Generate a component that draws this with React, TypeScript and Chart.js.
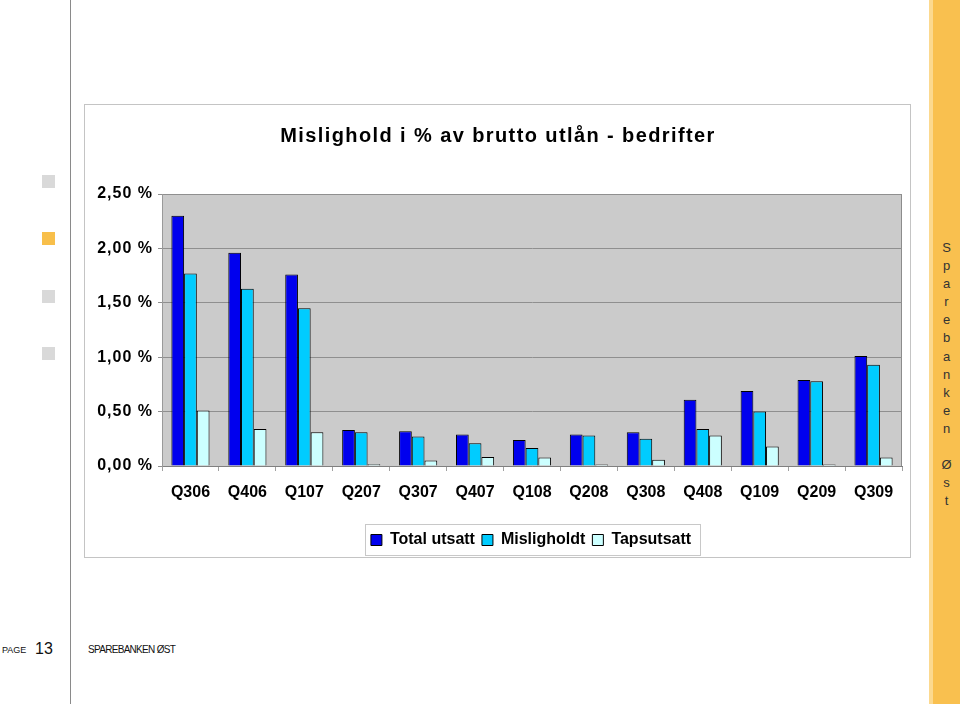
import React, { useEffect, useRef } from "react";
import { Chart, registerables } from "chart.js";

Chart.register(...registerables);

const TITLE = "Mislighold i % av brutto utlån - bedrifter";
const QUARTERS = ["Q306", "Q406", "Q107", "Q207", "Q307", "Q407", "Q108", "Q208", "Q308", "Q408", "Q109", "Q209", "Q309"];
const TOTAL_UTSATT = [2.30, 1.96, 1.76, 0.33, 0.32, 0.29, 0.24, 0.29, 0.31, 0.61, 0.69, 0.79, 1.01];
const MISLIGHOLDT = [1.77, 1.63, 1.45, 0.31, 0.27, 0.21, 0.165, 0.28, 0.25, 0.34, 0.50, 0.78, 0.93];
const TAPSUTSATT = [0.51, 0.34, 0.31, 0.017, 0.05, 0.083, 0.077, 0.013, 0.058, 0.28, 0.18, 0.013, 0.077];
const SERIES_NAMES = ["Total utsatt", "Misligholdt", "Tapsutsatt"];
const SIDE_TEXT = "Sparebanken Øst";

const FONT = "'Liberation Sans', Arial, sans-serif";

const plotBg = {
  id: "plotBg",
  beforeDraw(chart: any) {
    const { ctx, chartArea } = chart;
    ctx.save();
    ctx.fillStyle = "#cbcbcb";
    ctx.fillRect(chartArea.left, chartArea.top, chartArea.right - chartArea.left, chartArea.bottom - chartArea.top);
    ctx.strokeStyle = "#8c8c8c";
    ctx.lineWidth = 1;
    ctx.beginPath();
    ctx.moveTo(chartArea.left, chartArea.top + 0.5);
    ctx.lineTo(chartArea.right - 0.5, chartArea.top + 0.5);
    ctx.lineTo(chartArea.right - 0.5, chartArea.bottom);
    ctx.stroke();
    ctx.restore();
  },
};

const boxShift = {
  id: "boxShift",
  afterLayout(chart: any) {
    const lg = chart.legend;
    if (lg) {
      lg.left += 38;
      lg.right += 38;
      lg.top += 2;
      lg.bottom += 2;
    }
    const tb = chart.titleBlock;
    if (tb) {
      tb.left += 5;
      tb.right += 5;
    }
  },
};

const legendBox = {
  id: "legendBox",
  afterDraw(chart: any) {
    const lg = chart.legend;
    if (!lg || !lg.legendHitBoxes || !lg.legendHitBoxes.length) return;
    const boxes = lg.legendHitBoxes;
    let l = Infinity, r = -Infinity, t = Infinity, b = -Infinity;
    boxes.forEach((h: any) => {
      l = Math.min(l, h.left);
      r = Math.max(r, h.left + h.width);
      t = Math.min(t, h.top);
      b = Math.max(b, h.top + h.height);
    });
    const { ctx } = chart;
    ctx.save();
    ctx.strokeStyle = "#c8c8c8";
    ctx.lineWidth = 1;
    ctx.strokeRect(Math.round(l - 6) + 0.5, Math.round(t - 8) + 0.5, Math.round(r - l + 15), Math.round(b - t + 15));
    ctx.restore();
  },
};

function withSpacing(obj: any, method: string, spacing: string) {
  if (!obj || typeof obj[method] !== "function") return;
  const orig = obj[method];
  obj[method] = function (...args: any[]) {
    const ctx: any = this.ctx;
    const prev = ctx.letterSpacing;
    ctx.letterSpacing = spacing;
    try {
      return orig.apply(this, args);
    } finally {
      ctx.letterSpacing = prev;
    }
  };
}

function ChartBox() {
  const ref = useRef<HTMLCanvasElement | null>(null);
  useEffect(() => {
    if (!ref.current) return;
    const mk = (label: string, data: number[], color: string) => ({
      label,
      data,
      backgroundColor: color,
      borderColor: "#000000",
      borderWidth: 1,
      categoryPercentage: 0.67,
      barPercentage: 1.0,
    });
    const chart: any = new Chart(ref.current, {
      type: "bar",
      data: {
        labels: QUARTERS,
        datasets: [
          mk(SERIES_NAMES[0], TOTAL_UTSATT, "#0000ee"),
          mk(SERIES_NAMES[1], MISLIGHOLDT, "#00ccff"),
          mk(SERIES_NAMES[2], TAPSUTSATT, "#ccffff"),
        ],
      },
      options: {
        animation: false,
        responsive: false,
        maintainAspectRatio: false,
        layout: { padding: { left: 0, right: 10, top: 0, bottom: 3 } },
        plugins: {
          title: {
            display: true,
            text: TITLE,
            color: "#000",
            font: { family: FONT, size: 20, weight: "bold" },
            padding: { top: 20, bottom: 46 },
          },
          legend: {
            display: true,
            position: "bottom",
            labels: {
              color: "#000",
              font: { family: FONT, size: 16, weight: "bold" },
              boxWidth: 11,
              boxHeight: 11,
              padding: 7,
            },
          },
          tooltip: { enabled: false },
        },
        scales: {
          x: {
            offset: true,
            grid: {
              offset: true,
              drawOnChartArea: false,
              drawTicks: true,
              tickLength: 5,
              color: "#a0a0a0",
            },
            border: { display: true, color: "#808080" },
            ticks: {
              color: "#000",
              font: { family: FONT, size: 16, weight: "bold" },
              padding: 12,
              maxRotation: 0,
              autoSkip: false,
            },
            afterFit(scale: any) {
              scale.height = 57;
            },
          },
          y: {
            min: 0,
            max: 2.5,
            ticks: {
              stepSize: 0.5,
              color: "#000",
              font: { family: FONT, size: 16, weight: "bold" },
              padding: 5,
              callback: (v: any) => Number(v).toFixed(2).replace(".", ",") + " %",
            },
            grid: {
              color: "#8f8f8f",
              drawTicks: true,
              tickLength: 4,
            },
            border: { display: true, color: "#9a9a9a" },
            afterFit(scale: any) {
              scale.width = 78;
            },
          },
        },
      },
      plugins: [plotBg, boxShift, legendBox],
    });
    withSpacing(chart.titleBlock, "draw", "1.4px");
    withSpacing(chart.scales.y, "drawLabels", "1px");
    chart.update();
    return () => chart.destroy();
  }, []);
  return <canvas ref={ref} width={828} height={455} style={{ display: "block", width: 828, height: 455 }} />;
}

export default function App() {
  const squares = [
    { top: 175, color: "#d9d9d9" },
    { top: 232, color: "#f8bf4a" },
    { top: 290, color: "#d9d9d9" },
    { top: 347, color: "#d9d9d9" },
  ];
  return (
    <div style={{ position: "fixed", left: 0, top: 0, width: 960, height: 704, background: "#fff", overflow: "hidden", fontFamily: FONT }}>
      <div style={{ position: "absolute", left: 70, top: 0, width: 1, height: 704, background: "#8a8a8a" }} />
      {squares.map((s, i) => (
        <div key={i} style={{ position: "absolute", left: 42, top: s.top, width: 13, height: 13, background: s.color }} />
      ))}
      <div style={{ position: "absolute", left: 84, top: 104, width: 827, height: 454, border: "1px solid #c4c4c4", boxSizing: "border-box" }} />
      <div style={{ position: "absolute", left: 84, top: 104 }}>
        <ChartBox />
      </div>
      <div style={{ position: "absolute", left: 929, top: 0, width: 4, height: 704, background: "#fcd98f" }} />
      <div style={{ position: "absolute", left: 933, top: 0, width: 27, height: 704, background: "#f9c04f" }} />
      <div style={{ position: "absolute", left: 933, top: 239, width: 27, textAlign: "center", color: "#333", fontSize: 13, lineHeight: "18.1px" }}>
        {SIDE_TEXT.split("").map((c, i) => (
          <div key={i} style={{ height: 18.1 }}>{c === " " ? "\u00a0" : c}</div>
        ))}
      </div>
      <div style={{ position: "absolute", left: 2, top: 645, fontSize: 9, color: "#111" }}>PAGE</div>
      <div style={{ position: "absolute", left: 35, top: 640, fontSize: 16, color: "#111" }}>13</div>
      <div style={{ position: "absolute", left: 88, top: 644, fontSize: 10, color: "#111", letterSpacing: "-0.7px" }}>SPAREBANKEN ØST</div>
    </div>
  );
}
